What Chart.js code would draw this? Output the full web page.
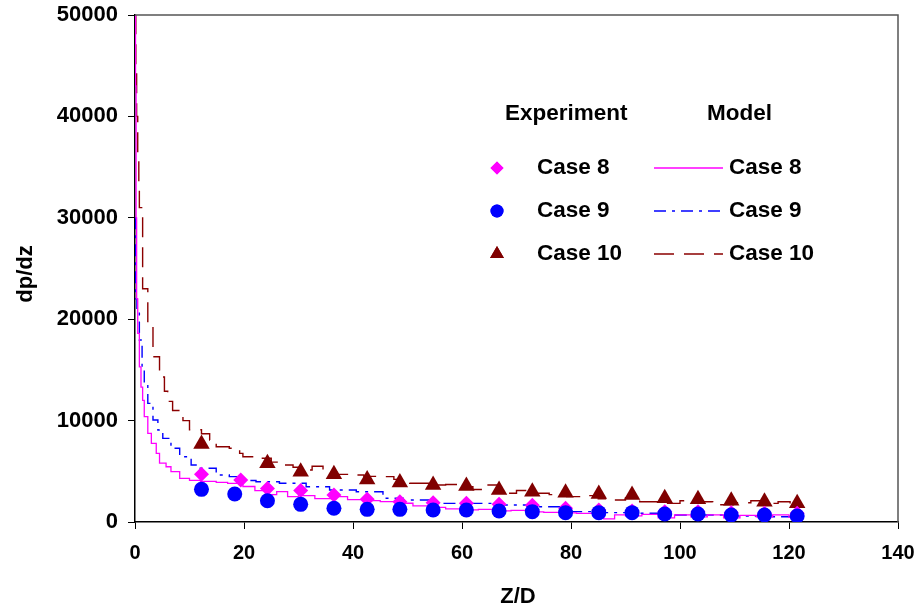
<!DOCTYPE html>
<html>
<head>
<meta charset="utf-8">
<script src="https://cdn.jsdelivr.net/npm/chart.js@4.4.1/dist/chart.umd.min.js"></script>
<style>
  html, body { margin: 0; padding: 0; background: #fff; }
  #wrap { width: 915px; height: 609px; }
</style>
</head>
<body>
<div id="wrap"><canvas id="dpChart" width="915" height="609"></canvas></div>
<script>
// ---- data ----
const xTicks = [0, 20, 40, 60, 80, 100, 120, 140];
const yTicks = [0, 10000, 20000, 30000, 40000, 50000];

// experiment points (Z/D, dp/dz)
const z8Exp  = [12.2, 19.4, 24.3, 30.4, 36.5, 42.6, 48.6, 54.7, 60.8, 66.8, 72.9, 79.0, 85.1, 91.2, 97.2, 103.3, 109.4, 115.5, 121.5];
const dp8Exp = [4700, 4140, 3300, 3100, 2660, 2240, 2000, 1900, 1840, 1745, 1650, 1350, 1180, 1085, 1020, 1020, 920, 860, 860];

const z9Exp  = [12.2, 18.3, 24.3, 30.4, 36.5, 42.6, 48.6, 54.7, 60.8, 66.8, 72.9, 79.0, 85.1, 91.2, 97.2, 103.3, 109.4, 115.5, 121.5];
const dp9Exp = [3220, 2760, 2100, 1740, 1350, 1250, 1250, 1180, 1180, 1085, 1020, 920, 920, 920, 790, 790, 690, 690, 590];

const z10Exp  = [12.2, 24.3, 30.4, 36.5, 42.6, 48.6, 54.7, 60.8, 66.8, 72.9, 79.0, 85.1, 91.2, 97.2, 103.3, 109.4, 115.5, 121.5];
const dp10Exp = [7700, 5800, 4960, 4700, 4200, 3900, 3650, 3550, 3150, 2990, 2890, 2760, 2660, 2330, 2240, 2100, 2000, 1840];

// model curves
const z8Mod  = [0, 0.1, 0.2, 0.3, 0.5, 0.8, 1.1, 1.4, 1.7, 2.35, 3.0, 3.9, 4.5, 5.7, 6.6, 8.2, 10, 12, 14.9, 17, 19.8, 22, 24, 26, 28, 30, 33, 36, 39, 42, 45, 48, 51, 54, 57, 60, 63, 66, 69, 72, 75, 78, 81, 84, 86, 88, 90, 93, 96, 99, 102, 105, 108, 111, 114, 117, 120, 122];
const dp8Mod = [50000, 43000, 30000, 22000, 18600, 15300, 13300, 12000, 10400, 8750, 7760, 6770, 5800, 5450, 4960, 4300, 4100, 4000, 3900, 3800, 3500, 3100, 2700, 3000, 2500, 2600, 2300, 2500, 2200, 2100, 2000, 1850, 1600, 1450, 1300, 1200, 1250, 1100, 1150, 1000, 950, 900, 850, 700, 300, 700, 600, 750, 400, 700, 500, 700, 400, 650, 500, 700, 450, 700];

const z9Mod  = [0, 0.1, 0.35, 0.8, 1.3, 1.7, 2.35, 3.3, 4.2, 5.1, 6.6, 8.2, 10.3, 11.8, 14.9, 17.3, 20, 22.2, 26.5, 31.4, 35.7, 40.6, 45.5, 49.2, 54.6, 60.8, 66.9, 73, 79.2, 85.3, 91, 97, 103, 110, 116, 122];
const dp9Mod = [30000, 22000, 20900, 17950, 15300, 13700, 11700, 10060, 9070, 8250, 7270, 6440, 5620, 5300, 4630, 4470, 4100, 3970, 3815, 3480, 3150, 2990, 2340, 2170, 1840, 1840, 1680, 1510, 1020, 920, 860, 690, 690, 590, 520, 460];

const z10Mod  = [0, 0.15, 0.3, 0.5, 0.7, 0.8, 1.4, 2.35, 3.3, 4.5, 5.4, 6.0, 6.9, 8.8, 10, 12.2, 13.7, 14.9, 16.7, 17.3, 19.2, 19.8, 22.9, 25, 27, 29, 30.8, 32.5, 34.5, 37, 39.4, 42, 45.5, 47.5, 49.2, 50.4, 54.6, 57, 60.8, 62, 63.9, 66.9, 70, 73, 76, 79.2, 82, 85, 87.7, 90, 92.6, 97.5, 100, 103.6, 106, 109.8, 113, 115.9, 118, 120.2, 122];
const dp10Mod = [50000, 45000, 40000, 36000, 33000, 31000, 23000, 19300, 16300, 14300, 12900, 11900, 11000, 10000, 9100, 8700, 8080, 7420, 7420, 7270, 6770, 6440, 6280, 5900, 5620, 5400, 5130, 5500, 4960, 4700, 4630, 4500, 4470, 4200, 4140, 3815, 3650, 3700, 3480, 3200, 3650, 2830, 3100, 2830, 2700, 2500, 2600, 2300, 2170, 2400, 2000, 1840, 2100, 2000, 1700, 1900, 2100, 1840, 2000, 1680, 1900];

const colors = {
  c8: '#FF00FF',
  c9: '#0000FF',
  c10: '#800000',
  c10Line: '#8B0000'
};

const pts = (xs, ys) => xs.map((x, i) => ({ x: x, y: ys[i] }));

// ---- axis titles, frame and the two-column legend ----
const extrasPlugin = {
  id: 'extras',
  afterDraw(chart) {
    const ctx = chart.ctx;
    const a = chart.chartArea;
    ctx.save();
    // frame top / right
    ctx.strokeStyle = '#555';
    ctx.lineWidth = 1.5;
    ctx.beginPath();
    ctx.moveTo(a.left, a.top);
    ctx.lineTo(a.right, a.top);
    ctx.lineTo(a.right, a.bottom);
    ctx.stroke();

    ctx.fillStyle = '#000';
    ctx.font = 'bold 22px "Liberation Sans", Arial, sans-serif';
    ctx.textAlign = 'center';
    ctx.textBaseline = 'middle';
    ctx.fillText('Z/D', 518, 597);
    ctx.save();
    ctx.translate(26, 274);
    ctx.rotate(-Math.PI / 2);
    ctx.fillText('dp/dz', 0, 0);
    ctx.restore();

    // legend
    ctx.font = 'bold 22.5px "Liberation Sans", Arial, sans-serif';
    ctx.textAlign = 'left';
    ctx.fillText('Experiment', 505, 114);
    ctx.fillText('Model', 707, 114);
    const rows = [
      { y: 168, label: 'Case 8', ds: 0, line: 3, r: 6.5 },
      { y: 211, label: 'Case 9', ds: 1, line: 4, r: 6.5 },
      { y: 254, label: 'Case 10', ds: 2, line: 5, r: 8 }
    ];
    rows.forEach(r => {
      const p = chart.data.datasets[r.ds];
      ctx.fillStyle = p.backgroundColor;
      ctx.beginPath();
      Chart.helpers.drawPoint(ctx, {
        pointStyle: p.pointStyle, radius: r.r, rotation: 0, borderWidth: 0
      }, 497, r.y);
      ctx.fill();
      ctx.fillStyle = '#000';
      ctx.fillText(r.label, 537, r.y);
      ctx.fillText(r.label, 729, r.y);
      const l = chart.data.datasets[r.line];
      ctx.strokeStyle = l.borderColor;
      ctx.lineWidth = l.borderWidth;
      ctx.setLineDash(l.borderDash || []);
      ctx.beginPath();
      ctx.moveTo(654, r.y);
      ctx.lineTo(723, r.y);
      ctx.stroke();
      ctx.setLineDash([]);
    });
    ctx.restore();
  }
};

function renderChart() {
  const el = document.getElementById('dpChart');
  new Chart(el, {
    type: 'scatter',
    data: {
      datasets: [
        { label: 'Experiment Case 8', data: pts(z8Exp, dp8Exp), pointStyle: 'rectRot', pointRadius: 7.5,
          backgroundColor: colors.c8, borderColor: colors.c8, borderWidth: 0, order: 1 },
        { label: 'Experiment Case 9', data: pts(z9Exp, dp9Exp), pointStyle: 'circle', pointRadius: 7.5,
          backgroundColor: colors.c9, borderColor: colors.c9, borderWidth: 0, order: 0 },
        { label: 'Experiment Case 10', data: pts(z10Exp, dp10Exp), pointStyle: 'triangle', pointRadius: 9.5,
          backgroundColor: colors.c10, borderColor: colors.c10, borderWidth: 0, order: 2 },
        { label: 'Model Case 8', data: pts(z8Mod, dp8Mod), showLine: true, stepped: true, pointRadius: 0,
          borderColor: colors.c8, borderWidth: 1.3, order: 3 },
        { label: 'Model Case 9', data: pts(z9Mod, dp9Mod), showLine: true, stepped: true, pointRadius: 0,
          borderColor: colors.c9, borderWidth: 1.4, borderDash: [12, 6, 3, 6], order: 4 },
        { label: 'Model Case 10', data: pts(z10Mod, dp10Mod), showLine: true, stepped: true, pointRadius: 0,
          borderColor: colors.c10Line, borderWidth: 1.4, borderDash: [20, 10], order: 5 }
      ]
    },
    options: {
      responsive: false,
      animation: false,
      layout: { padding: { left: 0, top: 15, right: 17, bottom: 0 } },
      plugins: { legend: { display: false }, tooltip: { enabled: false } },
      scales: {
        x: {
          type: 'linear', min: 0, max: 140,
          afterFit: s => { s.height = 87; s.paddingLeft = 0; s.paddingRight = 0; },
          afterBuildTicks: s => { s.ticks = xTicks.map(v => ({ value: v })); },
          border: { color: '#000', width: 1.5 },
          grid: { drawOnChartArea: false, color: '#000', tickLength: 7 },
          ticks: { color: '#000', padding: 12, maxRotation: 0,
                   font: { family: '"Liberation Sans", Arial', size: 20, weight: 'bold' } }
        },
        y: {
          type: 'linear', min: 0, max: 50000,
          afterFit: s => { s.width = 135; s.paddingTop = 0; s.paddingBottom = 0; },
          afterBuildTicks: s => { s.ticks = yTicks.map(v => ({ value: v })); },
          border: { color: '#000', width: 1.5 },
          grid: { drawOnChartArea: false, color: '#000', tickLength: 7 },
          ticks: { color: '#000', padding: 10,
                   callback: v => String(v),
                   font: { family: '"Liberation Sans", Arial', size: 22, weight: 'bold' } }
        }
      }
    },
    plugins: [extrasPlugin]
  });
}

document.addEventListener('DOMContentLoaded', renderChart);
</script>
</body>
</html>
